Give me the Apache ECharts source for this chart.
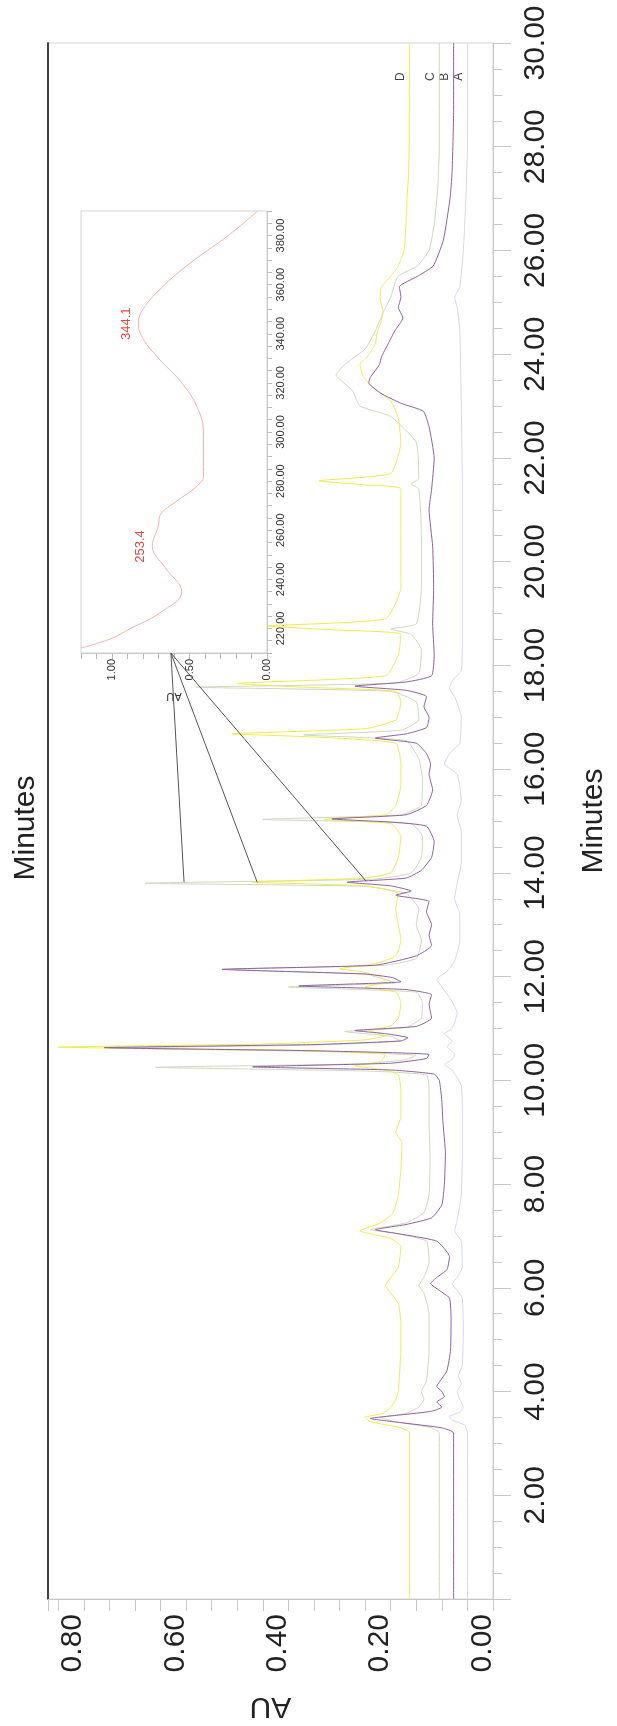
<!DOCTYPE html>
<html><head><meta charset="utf-8">
<script src="https://cdn.jsdelivr.net/npm/echarts@6/dist/echarts.min.js"></script>
<style>html,body{margin:0;padding:0;background:#fff}#c{width:617px;height:1726px}</style>
</head><body><div id="c"></div>
<script>
// ---- main chromatogram data: [time (min), AU] for traces A..D ----
const traceA = [[0,0],[3.2,0],[3.35,0.005],[3.45,0.03],[3.52,0.035],[3.6,0.015],[3.7,0.008],[3.85,0.015],[4.0,0.02],[4.15,0.012],[4.3,0.018],[4.5,0.01],[5.2,0.008],[5.8,0.01],[5.95,0.02],[6.08,0.03],[6.2,0.02],[6.4,0.01],[6.9,0.012],[7.1,0.025],[7.3,0.02],[7.8,0.012],[8.5,0.01],[9.3,0.01],[9.9,0.012],[10.2,0.03],[10.3,0.045],[10.4,0.03],[10.5,0.025],[10.65,0.04],[10.75,0.03],[10.9,0.045],[11.0,0.03],[11.3,0.02],[11.6,0.035],[11.8,0.05],[11.95,0.06],[12.1,0.04],[12.3,0.025],[12.7,0.015],[13.2,0.015],[13.5,0.025],[13.8,0.02],[14.2,0.012],[14.8,0.012],[15.1,0.02],[15.4,0.012],[15.9,0.02],[16.1,0.045],[16.3,0.035],[16.5,0.015],[17.0,0.012],[17.4,0.025],[17.55,0.035],[17.7,0.03],[17.9,0.012],[18.5,0.01],[20,0.01],[21.5,0.01],[23,0.012],[24.5,0.015],[24.9,0.02],[25.1,0.025],[25.3,0.015],[26,0.008],[27,0.003],[28,0.0],[30,0.0]];
const traceB = [[0,0.027],[3.2,0.027],[3.3,0.05],[3.4,0.13],[3.48,0.19],[3.55,0.13],[3.62,0.07],[3.7,0.05],[3.8,0.06],[3.9,0.045],[4.0,0.05],[4.1,0.06],[4.25,0.05],[4.4,0.04],[4.8,0.033],[5.4,0.032],[5.8,0.035],[5.95,0.055],[6.08,0.072],[6.2,0.06],[6.35,0.04],[6.6,0.035],[6.9,0.06],[7.05,0.14],[7.12,0.18],[7.22,0.12],[7.35,0.07],[7.6,0.05],[8.0,0.045],[8.6,0.043],[9.2,0.048],[9.6,0.05],[10.0,0.055],[10.12,0.065],[10.2,0.15],[10.26,0.42],[10.33,0.15],[10.42,0.08],[10.5,0.075],[10.57,0.3],[10.63,0.71],[10.69,0.3],[10.76,0.13],[10.82,0.116],[10.9,0.16],[10.96,0.22],[11.04,0.1],[11.2,0.07],[11.47,0.075],[11.65,0.07],[11.75,0.12],[11.82,0.33],[11.9,0.13],[11.98,0.146],[12.05,0.2],[12.14,0.48],[12.22,0.18],[12.4,0.1],[12.6,0.07],[12.8,0.075],[13.0,0.07],[13.25,0.08],[13.45,0.075],[13.57,0.14],[13.65,0.11],[13.75,0.15],[13.82,0.235],[13.9,0.12],[14.05,0.09],[14.3,0.07],[14.6,0.065],[14.9,0.08],[14.98,0.15],[15.04,0.265],[15.12,0.12],[15.3,0.08],[15.6,0.068],[15.9,0.075],[16.1,0.072],[16.3,0.08],[16.5,0.1],[16.6,0.18],[16.68,0.12],[16.8,0.08],[17.0,0.075],[17.2,0.085],[17.4,0.08],[17.52,0.12],[17.6,0.22],[17.68,0.12],[17.8,0.07],[18.2,0.065],[18.8,0.068],[19.5,0.066],[20.3,0.068],[21.0,0.075],[21.4,0.07],[22.0,0.065],[22.6,0.075],[22.9,0.086],[23.05,0.129],[23.25,0.17],[23.45,0.193],[23.55,0.19],[23.8,0.172],[23.95,0.168],[24.2,0.155],[24.45,0.142],[24.7,0.126],[24.9,0.135],[25.1,0.13],[25.3,0.133],[25.5,0.098],[25.7,0.067],[26.2,0.047],[27.0,0.034],[27.5,0.03],[28.7,0.027],[30,0.027]];
const traceC = [[0,0.055],[3.2,0.055],[3.3,0.07],[3.42,0.14],[3.5,0.17],[3.58,0.12],[3.7,0.095],[3.85,0.085],[4.0,0.09],[4.2,0.08],[4.8,0.075],[5.5,0.075],[5.9,0.085],[6.05,0.095],[6.2,0.085],[6.5,0.075],[6.9,0.08],[7.05,0.14],[7.12,0.19],[7.25,0.12],[7.45,0.085],[7.8,0.075],[8.5,0.073],[9.2,0.075],[9.8,0.075],[10.1,0.08],[10.18,0.2],[10.25,0.61],[10.32,0.2],[10.4,0.12],[10.48,0.1],[10.56,0.3],[10.62,0.70],[10.68,0.3],[10.76,0.13],[10.85,0.15],[10.94,0.24],[11.02,0.12],[11.2,0.09],[11.5,0.088],[11.7,0.1],[11.8,0.35],[11.88,0.14],[11.97,0.17],[12.05,0.2],[12.14,0.46],[12.22,0.16],[12.35,0.1],[12.7,0.09],[13.0,0.1],[13.3,0.095],[13.6,0.12],[13.74,0.2],[13.8,0.63],[13.88,0.18],[14.0,0.11],[14.3,0.09],[14.7,0.088],[14.95,0.11],[15.03,0.40],[15.12,0.13],[15.3,0.09],[15.8,0.088],[16.2,0.095],[16.55,0.12],[16.66,0.32],[16.75,0.13],[16.95,0.095],[17.3,0.1],[17.5,0.15],[17.58,0.53],[17.66,0.14],[17.85,0.095],[18.3,0.09],[18.6,0.11],[18.7,0.15],[18.8,0.1],[19.5,0.09],[20.5,0.09],[21.4,0.095],[21.5,0.11],[21.6,0.095],[22.3,0.1],[22.8,0.15],[23.0,0.21],[23.3,0.225],[23.6,0.257],[23.8,0.24],[24.1,0.2],[24.45,0.18],[24.8,0.165],[25.1,0.15],[25.5,0.136],[25.7,0.098],[26.0,0.075],[26.5,0.065],[27.2,0.058],[28,0.055],[30,0.055]];
const traceD = [[0,0.113],[3.2,0.113],[3.3,0.13],[3.42,0.19],[3.5,0.2],[3.58,0.165],[3.7,0.15],[3.85,0.14],[4.0,0.135],[4.3,0.133],[4.8,0.13],[5.3,0.13],[5.7,0.135],[5.9,0.15],[6.05,0.16],[6.2,0.15],[6.4,0.135],[6.8,0.13],[6.95,0.15],[7.1,0.21],[7.25,0.17],[7.45,0.145],[7.8,0.135],[8.3,0.13],[8.8,0.128],[9.0,0.14],[9.3,0.13],[9.8,0.13],[10.1,0.135],[10.2,0.16],[10.28,0.22],[10.36,0.17],[10.5,0.16],[10.58,0.35],[10.64,0.80],[10.7,0.4],[10.78,0.2],[10.86,0.16],[10.96,0.19],[11.05,0.15],[11.2,0.135],[11.5,0.13],[11.7,0.14],[11.8,0.2],[11.9,0.16],[12.0,0.17],[12.1,0.21],[12.15,0.25],[12.25,0.18],[12.4,0.14],[12.7,0.13],[13.0,0.135],[13.3,0.14],[13.6,0.135],[13.75,0.2],[13.82,0.42],[13.9,0.2],[14.0,0.15],[14.3,0.135],[14.7,0.13],[14.95,0.15],[15.03,0.28],[15.12,0.16],[15.3,0.14],[15.7,0.13],[16.1,0.13],[16.5,0.14],[16.62,0.3],[16.68,0.46],[16.78,0.2],[16.95,0.14],[17.3,0.13],[17.5,0.14],[17.58,0.32],[17.65,0.45],[17.8,0.16],[18.2,0.135],[18.6,0.13],[18.68,0.25],[18.76,0.39],[18.9,0.16],[19.5,0.13],[20.5,0.13],[21.4,0.13],[21.48,0.2],[21.56,0.29],[21.7,0.15],[22.3,0.13],[22.8,0.136],[23.1,0.15],[23.4,0.19],[23.6,0.205],[23.8,0.21],[23.95,0.196],[24.2,0.18],[24.4,0.177],[24.6,0.17],[24.8,0.165],[25.1,0.171],[25.3,0.168],[25.5,0.15],[25.7,0.135],[26.0,0.124],[26.5,0.12],[27.0,0.118],[27.5,0.115],[28,0.114],[30,0.113]];
const traceNames = ['A','B','C','D'];
// ---- inset UV spectrum ----
const waveNm = [212,216,220,226,235,245,253.4,262,266,272,277,282,290,300,310,320,330,338,344.1,350,360,370,380,390];
const absAU  = [1.2,1.0,0.88,0.70,0.55,0.66,0.74,0.70,0.69,0.58,0.47,0.41,0.41,0.41,0.45,0.55,0.70,0.80,0.83,0.80,0.66,0.47,0.25,0.06];
const peakLabels = ['253.4','344.1'];
const peakWave = [253.4,344.1];
const peakAbs = [0.74,0.83];
// ---- axis tick labels ----
const auTickLabels = ['0.00','0.20','0.40','0.60','0.80'];
const timeTickLabels = ['2.00','4.00','6.00','8.00','10.00','12.00','14.00','16.00','18.00','20.00','22.00','24.00','26.00','28.00','30.00'];
const insetAuLabels = ['0.00','0.50','1.00'];
const insetWaveLabels = ['220.00','240.00','260.00','280.00','300.00','320.00','340.00','360.00','380.00'];
// callout targets (peak tips at ~13.8 min) and their origin on the inset AU axis
const calloutTime = [13.82,13.82,13.84];
const calloutAU = [0.554,0.411,0.198];
const calloutFromAU = 0.62;

const FONT = '"Liberation Sans Narrow","Arial Narrow","Liberation Sans",Arial,sans-serif';
const colors = {A:'#d9d5e9',B:'#8c629c',C:'#cdd8bf',D:'#efeb4c'};
const traces = {A:traceA,B:traceB,C:traceC,D:traceD};
function swap(arr){return arr.map(p=>[p[1],p[0]]);}
function fmt(list){return function(v){const s=v.toFixed(2);return list.indexOf(s)>=0?s:'';};}

const chart = echarts.init(document.getElementById('c'),null,{renderer:'canvas'});
const series = ['A','C','D','B'].map(n=>({type:'line',name:n,data:swap(traces[n]),xAxisIndex:0,yAxisIndex:0,
  showSymbol:false,symbol:'none',smooth:0.15,lineStyle:{color:colors[n],width:1},animation:false}));
series.push({type:'line',data:waveNm.map((w,i)=>[absAU[i],w]),xAxisIndex:1,yAxisIndex:2,showSymbol:false,symbol:'none',smooth:0.4,
  lineStyle:{color:'#f2b2aa',width:1},animation:false});

chart.setOption({
 animation:false,
 textStyle:{fontFamily:FONT},
 grid:[{left:48,right:112,top:43,bottom:112,show:true,borderColor:'#d4d4d4',borderWidth:1},
       {left:81,right:350,top:211,bottom:1073,show:true,borderColor:'#d4d4d4',borderWidth:1}],
 xAxis:[
  {type:'value',gridIndex:0,inverse:true,min:-0.05,max:0.82,interval:0.05,
   axisLine:{show:true,onZero:false,lineStyle:{color:'#c8c8c8'}},axisTick:{show:true,length:12,lineStyle:{color:'#c8c8c8'}},
   splitLine:{show:false},
   axisLabel:{rotate:90,align:'right',verticalAlign:'top',margin:15,fontSize:30,color:'#222',fontFamily:FONT,formatter:fmt(auTickLabels)},
   name:'AU',nameLocation:'middle',nameGap:92,nameRotate:180,nameTextStyle:{fontSize:30,color:'#222',fontFamily:FONT}},
  {type:'value',gridIndex:1,inverse:true,min:0,max:1.2,interval:0.1,
   axisLine:{show:true,onZero:false,lineStyle:{color:'#c8c8c8'}},axisTick:{show:true,length:6,lineStyle:{color:'#bbb'}},splitLine:{show:false},
   axisLabel:{rotate:90,align:'right',verticalAlign:'middle',margin:6,fontSize:11,color:'#333',fontFamily:FONT,formatter:fmt(insetAuLabels)},
   name:'AU',nameLocation:'middle',nameGap:38,nameRotate:180,nameTextStyle:{fontSize:11,color:'#333',fontFamily:FONT}}
 ],
 yAxis:[
  {type:'value',gridIndex:0,position:'right',min:0,max:30,interval:2,
   axisLine:{show:true,onZero:false,lineStyle:{color:'#c8c8c8'}},axisTick:{show:true,length:18,lineStyle:{color:'#c8c8c8'}},
   minorTick:{show:true,splitNumber:4,length:9,lineStyle:{color:'#c8c8c8'}},splitLine:{show:false},
   axisLabel:{rotate:90,align:'center',verticalAlign:'top',margin:28,fontSize:30,color:'#222',fontFamily:FONT,
     formatter:function(v){const s=v.toFixed(2);return timeTickLabels.indexOf(s)>=0?s:'';}},
   name:'Minutes',nameLocation:'middle',nameGap:86,nameRotate:90,nameTextStyle:{fontSize:30,color:'#222',fontFamily:FONT}},
  {type:'value',gridIndex:0,position:'left',min:0,max:30,
   axisLine:{show:true,onZero:false,lineStyle:{color:'#444',width:2}},axisTick:{show:false},axisLabel:{show:false},splitLine:{show:false}},
  {type:'value',gridIndex:1,position:'right',min:210,max:390,interval:5,
   axisLine:{show:true,onZero:false,lineStyle:{color:'#c8c8c8'}},axisTick:{show:true,length:5,lineStyle:{color:'#bbb'}},splitLine:{show:false},
   axisLabel:{rotate:90,align:'center',verticalAlign:'top',margin:8,fontSize:11,color:'#333',fontFamily:FONT,
     formatter:function(v){const s=v.toFixed(2);return insetWaveLabels.indexOf(s)>=0?s:'';}}}
 ],
 series:series
});

// overlay texts & callout lines positioned through the library's scales
const g = [];
g.push({type:'text',x:26,y:828,rotation:Math.PI/2,style:{text:'Minutes',font:'30px '+FONT,fill:'#222',textAlign:'center',textVerticalAlign:'middle'}});
traceNames.forEach(n=>{
  const t = traces[n];
  const p = chart.convertToPixel({gridIndex:0},[t[t.length-1][1],29.35]);
  g.push({type:'text',x:p[0]-3,y:p[1],rotation:Math.PI/2,style:{text:n,font:'12px '+FONT,fill:'#444',textAlign:'center',textVerticalAlign:'bottom'}});
});
peakLabels.forEach((t,i)=>{
  const p = chart.convertToPixel({xAxisIndex:1,yAxisIndex:2},[peakAbs[i],peakWave[i]]);
  g.push({type:'text',x:p[0]-5,y:p[1],rotation:Math.PI/2,style:{text:t,font:'13px '+FONT,fill:'#e8463c',textAlign:'center',textVerticalAlign:'bottom'}});
});
const o = chart.convertToPixel({xAxisIndex:1,yAxisIndex:2},[calloutFromAU,210]);
calloutAU.forEach((a,i)=>{
  const p = chart.convertToPixel({gridIndex:0},[a,calloutTime[i]]);
  g.push({type:'line',shape:{x1:o[0],y1:o[1],x2:p[0],y2:p[1]},style:{stroke:'#555',lineWidth:1},z:10});
});
chart.setOption({graphic:g});
</script></body></html>
